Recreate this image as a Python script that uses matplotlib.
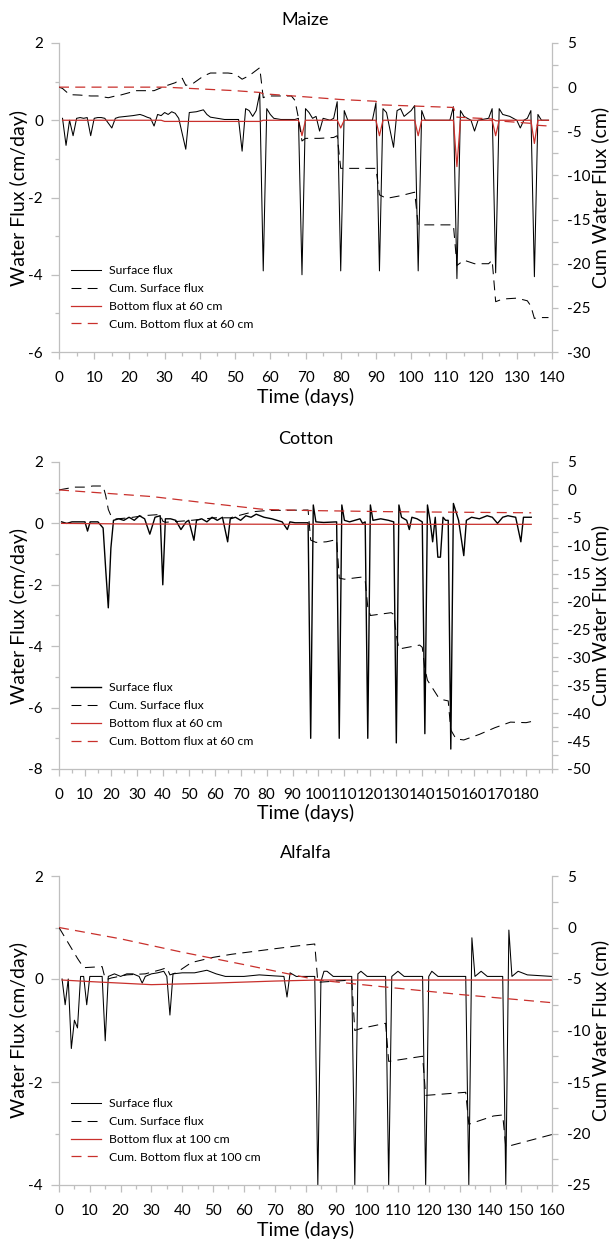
import matplotlib
matplotlib.use('Agg')
import matplotlib.pyplot as plt
from matplotlib.ticker import MultipleLocator, FixedLocator
from matplotlib.lines import Line2D

plt.rcParams['font.family'] = ['Lato', 'DejaVu Sans']
plt.rcParams['axes.unicode_minus'] = False

RED = '#C9302C'
AXC = '#BFBFBF'

# ---------------- Maize ----------------
maize_sf_day = [1, 2, 3, 4, 5, 6, 7, 8, 9, 10, 11, 12, 13, 15, 16, 17, 19, 21, 23, 24, 25, 26, 27, 28, 29, 30,
                31, 32, 33, 34, 36, 37, 39, 41, 42, 43, 45, 47, 51, 52, 53, 54, 55, 56, 57, 58, 59, 60, 61, 63,
                67, 68, 69, 70, 71, 72, 73, 74, 75, 77, 78, 79, 80, 81, 82, 89, 90, 91, 92, 93, 95, 96, 97, 98,
                100, 101, 102, 103, 104, 111, 112, 113, 114, 115, 117, 118, 119, 122, 123, 124, 125, 126, 128,
                130, 131, 132, 133, 134, 135, 136, 137, 139]
maize_sf = [0.05, -0.65, 0.0, -0.4, 0.05, 0.07, 0.05, 0.07, -0.4, 0.05, 0.07, 0.07, 0.05, -0.2, 0.05, 0.08, 0.1,
            0.12, 0.15, 0.12, 0.08, 0.05, -0.15, 0.15, 0.12, 0.2, 0.15, 0.22, 0.18, 0.05, -0.75, 0.2, 0.22, 0.27,
            0.15, 0.08, 0.05, 0.02, 0.02, -0.8, 0.3, 0.25, 0.1, 0.25, 0.7, -3.9, 0.3, 0.15, 0.05, 0.02, 0.02, 0.05,
            -4.0, 0.3, 0.2, 0.05, 0.1, -0.28, 0.05, 0.0, 0.05, 0.48, -3.9, 0.25, 0.0, 0.0, 0.45, -3.9, 0.3, 0.2,
            -0.7, 0.25, 0.3, 0.1, 0.25, 0.38, -3.9, 0.25, 0.0, 0.0, 0.35, -4.1, 0.25, 0.1, 0.0, -0.28, 0.0, 0.05,
            0.3, -3.95, 0.3, 0.15, 0.1, 0.0, -0.2, 0.0, 0.05, 0.25, -4.05, 0.15, 0.0, 0.0]
maize_bf_day = [1, 29, 30, 57, 58, 68, 69, 70, 79, 80, 81, 90, 91, 92, 101, 102, 103, 112, 113, 114, 123, 124,
                125, 134, 135, 136, 139]
maize_bf = [0, 0, -0.03, -0.03, 0, 0, -0.4, 0, 0, -0.2, 0, 0, -0.4, 0, 0, -0.4, 0, 0, -1.2, 0, 0, -0.4, 0, 0,
            -0.6, 0, 0]
maize_csf_day = [0, 1, 3, 6, 9, 11, 14, 16, 17, 22, 27, 30, 33, 35, 36, 38, 41, 43, 48, 50, 52, 54, 57, 58, 59,
                 66, 67, 68, 69, 70, 74, 78, 79, 80, 90, 91, 93, 97, 101, 102, 112, 113, 115, 118, 122, 123, 124,
                 126, 130, 133, 134, 135, 136, 139]
maize_csf = [0, -0.15, -0.85, -0.9, -1.0, -1.0, -1.2, -1.0, -0.95, -0.4, -0.4, 0.1, 0.5, 1.0, 0.2, 0.4, 1.25, 1.6,
             1.6, 1.5, 0.9, 1.3, 2.2, -1.2, -1.0, -1.0, -1.5, -3.5, -6.1, -5.8, -5.8, -5.7, -5.5, -9.2, -9.2,
             -12.2, -12.6, -12.3, -11.9, -15.6, -15.6, -20.2, -19.6, -20.0, -20.0, -19.6, -24.3, -24.0, -23.9,
             -24.2, -24.8, -26.2, -26.1, -26.1]
maize_cbf_day = [0, 30, 35, 40, 50, 57, 58, 70, 80, 90, 91, 112, 113, 123, 124, 134, 135, 139]
maize_cbf = [0, 0, -0.1, -0.2, -0.4, -0.6, -0.75, -1.1, -1.4, -1.6, -2.0, -2.3, -3.4, -3.6, -3.8, -4.1, -4.3, -4.4]

# ---------------- Cotton ----------------
cotton_sf_day = [1, 3, 5, 10, 11, 12, 15, 17, 18, 19, 20, 21, 23, 25, 27, 29, 31, 33, 35, 37, 39, 40, 41, 43, 45,
                 47, 49, 50, 52, 53, 55, 57, 59, 61, 63, 65, 66, 68, 70, 72, 74, 76, 79, 82, 86, 88, 89, 91, 96,
                 97, 98, 99, 102, 107, 108, 109, 110, 112, 114, 116, 117, 118, 119, 120, 121, 124, 127, 129, 130,
                 131, 132, 134, 135, 136, 138, 140, 141, 142, 143, 144, 145, 146, 147, 148, 149, 150, 151, 152,
                 154, 156, 157, 159, 162, 165, 167, 169, 171, 173, 176, 178, 179, 182]
cotton_sf = [0.05, 0.0, 0.05, 0.05, -0.25, 0.05, 0.05, -0.15, -1.5, -2.75, -0.8, 0.1, 0.15, 0.1, 0.2, 0.1, 0.25,
             0.15, -0.35, 0.2, 0.25, -2.0, 0.15, 0.15, 0.1, -0.2, 0.05, 0.1, -0.55, 0.1, 0.15, 0.05, 0.2, 0.1, 0.2,
             -0.6, 0.15, 0.2, 0.1, 0.25, 0.2, 0.3, 0.2, 0.15, 0.05, -0.2, 0.05, 0.02, 0.02, -7.0, 0.6, 0.05, 0.03,
             0.05, -7.0, 0.6, 0.1, 0.05, 0.1, 0.15, 0.0, 0.05, -7.0, 0.6, 0.1, 0.15, 0.1, 0.05, -7.15, 0.6, 0.2,
             0.1, -0.2, 0.2, 0.15, 0.05, -6.85, 0.6, 0.1, -0.6, 0.2, -1.1, -1.1, 0.2, 0.1, 0.1, -7.35, 0.65, 0.1,
             -1.05, 0.1, 0.2, 0.15, 0.25, 0.2, 0.0, 0.2, 0.25, 0.2, -0.6, 0.2, 0.2]
cotton_bf_day = [1, 30, 100, 182]
cotton_bf = [0.0, -0.02, -0.03, -0.03]
cotton_csf_day = [0, 6, 10, 13, 17, 18, 19, 20, 22, 27, 33, 39, 40, 41, 50, 60, 66, 70, 75, 80, 96, 97, 99, 103,
                  107, 108, 110, 117, 118, 119, 120, 128, 129, 130, 131, 139, 140, 141, 142, 146, 148, 150, 151,
                  153, 156, 162, 168, 174, 180, 182]
cotton_csf = [0, 0.5, 0.5, 0.7, 0.7, -1.0, -3.5, -4.6, -5.2, -5.0, -4.6, -4.4, -5.6, -5.8, -5.5, -5.0, -5.0, -4.5,
              -3.9, -3.7, -3.6, -9.0, -9.4, -9.3, -8.9, -15.8, -16.0, -15.6, -16.2, -21.0, -22.5, -22.0, -22.3,
              -26.0, -28.5, -27.8, -28.2, -32.0, -34.1, -37.0, -37.6, -37.8, -43.0, -44.6, -44.8, -43.8, -42.6,
              -41.6, -41.7, -41.5]
cotton_cbf_day = [0, 18, 36, 58, 79, 97, 127, 182]
cotton_cbf = [0, -0.6, -1.2, -2.4, -3.5, -3.7, -3.9, -4.1]

# ---------------- Alfalfa ----------------
alfalfa_sf_day = [1, 2, 3, 4, 5, 6, 7, 8, 9, 10, 14, 15, 16, 18, 20, 22, 24, 26, 27, 28, 30, 32, 34, 35, 36, 37,
                  40, 44, 48, 51, 54, 60, 65, 70, 73, 74, 75, 77, 83, 84, 85, 86, 87, 89, 95, 96, 97, 98, 100, 106,
                  107, 108, 110, 112, 118, 119, 120, 121, 123, 132, 133, 134, 135, 137, 139, 144, 145, 146, 147,
                  149, 152, 160]
alfalfa_sf = [0.0, -0.5, 0.0, -1.35, -0.8, -0.95, 0.05, 0.05, -0.5, 0.05, 0.05, -1.2, 0.05, 0.1, 0.05, 0.1, 0.1,
              0.05, -0.08, 0.05, 0.1, 0.12, 0.15, 0.05, -0.7, 0.1, 0.12, 0.12, 0.17, 0.1, 0.05, 0.05, 0.08, 0.06,
              0.05, -0.35, 0.12, 0.05, 0.05, -4.0, -0.05, 0.15, 0.15, 0.05, 0.05, -4.0, 0.1, 0.15, 0.05, 0.05,
              -4.0, 0.05, 0.15, 0.05, 0.05, -4.0, 0.05, 0.15, 0.05, 0.05, -4.0, 0.8, 0.05, 0.15, 0.05, 0.05, -4.0,
              0.95, 0.05, 0.15, 0.08, 0.05]
alfalfa_bf_day = [1, 10, 30, 50, 70, 84, 160]
alfalfa_bf = [-0.02, -0.05, -0.11, -0.08, -0.04, -0.02, -0.02]
alfalfa_csf_day = [0, 3, 6, 8, 14, 15, 16, 17, 22, 28, 33, 35, 36, 38, 43, 50, 56, 69, 77, 83, 84, 85, 95, 96,
                   98, 106, 107, 118, 119, 132, 133, 141, 144, 145, 160]
alfalfa_csf = [0, -1.5, -3.0, -3.9, -3.8, -5.0, -5.0, -4.9, -4.6, -4.5, -4.1, -3.9, -4.6, -4.4, -3.4, -2.9, -2.6,
               -2.1, -1.8, -1.6, -5.3, -5.3, -5.1, -10.0, -9.8, -9.3, -13.0, -12.5, -16.3, -16.0, -19.1, -18.3,
               -18.2, -21.3, -20.1]
alfalfa_cbf_day = [0, 20, 40, 60, 84, 100, 130, 160]
alfalfa_cbf = [0, -1.1, -2.4, -3.6, -5.1, -5.6, -6.5, -7.3]

W, H = 615, 1244
fig = plt.figure(figsize=(W / 100, H / 100), dpi=100)


def panel(top, bottom, title, xmax, xlast, ylim, y2lim, sf, csf, bf, cbf, depth, lw_sf=0.75):
    left, right = 59, 552
    ax = fig.add_axes([left / W, 1 - bottom / H, (right - left) / W, (bottom - top) / H])
    ax2 = ax.twinx()
    ax.plot(sf[0], sf[1], color='black', lw=lw_sf)
    ax.plot(bf[0], bf[1], color=RED, lw=0.9)
    ax2.plot(csf[0], csf[1], color='black', lw=0.75, dashes=(9.5, 6))
    ax2.plot(cbf[0], cbf[1], color=RED, lw=0.9, dashes=(8, 5))

    ax.set_xlim(0, xmax)
    ax.set_ylim(*ylim)
    ax2.set_ylim(*y2lim)
    ax.xaxis.set_major_locator(FixedLocator(range(0, xlast + 1, 10)))
    ax.xaxis.set_minor_locator(MultipleLocator(5))
    ax.yaxis.set_major_locator(MultipleLocator(2))
    ax.yaxis.set_minor_locator(MultipleLocator(1))
    ax2.yaxis.set_major_locator(MultipleLocator(5))
    ax2.yaxis.set_minor_locator(MultipleLocator(2.5))

    for a in (ax, ax2):
        for s in a.spines.values():
            s.set_color(AXC)
            s.set_linewidth(0.9)
        a.spines['top'].set_visible(False)
    ax.spines['right'].set_visible(False)
    ax2.spines['left'].set_visible(False)
    ax2.spines['bottom'].set_visible(False)

    ax.tick_params(axis='x', which='major', length=5, width=0.9, color=AXC, pad=9, labelsize=11)
    ax.tick_params(axis='x', which='minor', length=3, width=0.9, color=AXC)
    ax.tick_params(axis='y', which='major', length=5.5, width=0.9, color=AXC, pad=6, labelsize=11)
    ax.tick_params(axis='y', which='minor', length=3, width=0.9, color=AXC)
    ax2.tick_params(axis='y', which='major', length=4, width=0.9, color=AXC, pad=7, labelsize=11)
    ax2.tick_params(axis='y', which='minor', length=4, width=0.9, color=AXC)

    ax.set_title(title, fontsize=13, pad=13)
    ax.set_xlabel('Time (days)', fontsize=14)
    ax.xaxis.set_label_coords(0.5, -0.115)
    ax.set_ylabel('Water Flux (cm/day)', fontsize=14)
    ax.yaxis.set_label_coords(-0.062, 0.5)
    ax2.set_ylabel('Cum Water Flux (cm)', fontsize=14)
    ax2.yaxis.set_label_coords(1.08, 0.5)

    handles = [Line2D([], [], color='black', lw=lw_sf),
               Line2D([], [], color='black', lw=0.75, dashes=(9.5, 6)),
               Line2D([], [], color=RED, lw=0.9),
               Line2D([], [], color=RED, lw=0.9, dashes=(8, 5))]
    labels = ['Surface flux', 'Cum. Surface flux', 'Bottom flux at %d cm' % depth,
              'Cum. Bottom flux at %d cm' % depth]
    ax2.legend(handles, labels, loc='lower left', bbox_to_anchor=(0.024, 0.072), frameon=False,
               fontsize=8.8, handlelength=2.45, handletextpad=0.66, labelspacing=0.56,
               borderpad=0, borderaxespad=0)


panel(43, 352, 'Maize', 140, 140, (-6, 2), (-30, 5),
      (maize_sf_day, maize_sf), (maize_csf_day, maize_csf),
      (maize_bf_day, maize_bf), (maize_cbf_day, maize_cbf), 60)
panel(462, 769, 'Cotton', 190, 180, (-8, 2), (-50, 5),
      (cotton_sf_day, cotton_sf), (cotton_csf_day, cotton_csf),
      (cotton_bf_day, cotton_bf), (cotton_cbf_day, cotton_cbf), 60, lw_sf=1.0)
panel(876, 1185, 'Alfalfa', 160, 160, (-4, 2), (-25, 5),
      (alfalfa_sf_day, alfalfa_sf), (alfalfa_csf_day, alfalfa_csf),
      (alfalfa_bf_day, alfalfa_bf), (alfalfa_cbf_day, alfalfa_cbf), 100)

fig.savefig('out.png', dpi=100)
